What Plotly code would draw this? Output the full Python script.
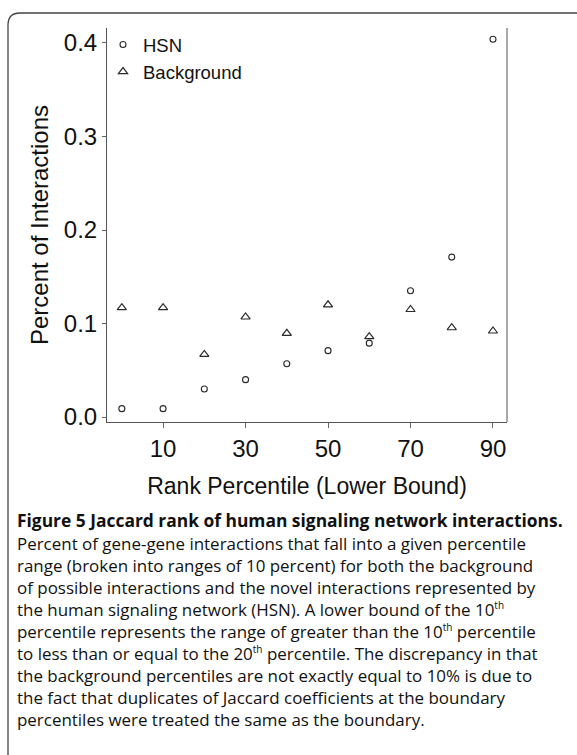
import plotly.graph_objects as go

# ---- data ----
rank_lower = [0, 10, 20, 30, 40, 50, 60, 70, 80, 90]
hsn = [0.009, 0.009, 0.030, 0.040, 0.057, 0.071, 0.079, 0.135, 0.171, 0.404]
background = [0.117, 0.117, 0.067, 0.107, 0.0895, 0.120, 0.086, 0.115, 0.0955, 0.092]
x_ticks = [10, 30, 50, 70, 90]
y_ticks = [0.0, 0.1, 0.2, 0.3, 0.4]
y_tick_text = ["0.0", "0.1", "0.2", "0.3", "0.4"]

TH = '<sup><span style="font-size:10px">th</span></sup>'
caption_lines = [
    "<b>Figure 5 Jaccard rank of human signaling network interactions.</b>",
    "Percent of gene-gene interactions that fall into a given percentile",
    "range (broken into ranges of 10 percent) for both the background",
    "of possible interactions and the novel interactions represented by",
    f"the human signaling network (HSN). A lower bound of the 10{TH}",
    f"percentile represents the range of greater than the 10{TH} percentile",
    f"to less than or equal to the 20{TH} percentile. The discrepancy in that",
    "the background percentiles are not exactly equal to 10% is due to",
    "the fact that duplicates of Jaccard coefficients at the boundary",
    "percentiles were treated the same as the boundary.",
]

W, H = 577, 755
L, R, T, B = 107, 70, 28, 333
PW, PH = W - L - R, H - T - B

def px(xp):
    return (xp - L) / PW

def py(yp):
    return (H - B - yp) / PH

ink = "#2a2a2a"
axis_font = "Liberation Sans, Arial, sans-serif"

fig = go.Figure()
fig.add_trace(go.Scatter(
    x=rank_lower, y=hsn, mode="markers", name="HSN",
    marker=dict(symbol="circle-open", size=6, color=ink, line=dict(width=1.1, color=ink)),
))
fig.add_trace(go.Scatter(
    x=rank_lower, y=background, mode="markers", name="Background",
    marker=dict(symbol="triangle-up-open", size=8, color=ink, line=dict(width=1.2, color=ink)),
))

fig.update_layout(
    width=W, height=H,
    margin=dict(l=L, r=R, t=T, b=B),
    plot_bgcolor="white", paper_bgcolor="white",
    font=dict(family=axis_font, color="#111"),
    showlegend=True,
    legend=dict(
        x=px(103), y=py(26), xanchor="left", yanchor="top",
        bgcolor="rgba(0,0,0,0)", font=dict(size=18.5, family=axis_font, color="#111"),
        tracegroupgap=0,
    ),
    xaxis=dict(
        range=[-3.6, 93.4], tickvals=x_ticks, ticks="outside", ticklen=5,
        tickcolor="#666", showgrid=False, zeroline=False,
        showline=True, linecolor="#555", linewidth=1, mirror=False,
        tickfont=dict(size=24, family=axis_font, color="#111"),
        title=dict(text="Rank Percentile (Lower Bound)", font=dict(size=23, family=axis_font, color="#111"), standoff=17),
    ),
    yaxis=dict(
        range=[-0.0053, 0.416], tickvals=y_ticks, ticktext=y_tick_text,
        ticks="outside", ticklen=4, tickcolor="#666",
        showgrid=False, zeroline=False,
        showline=True, linecolor="#555", linewidth=1,
        tickfont=dict(size=24, family=axis_font, color="#111"),
        title=dict(text="Percent of Interactions", font=dict(size=24, family=axis_font, color="#111"), standoff=8),
    ),
)

# right border of the plot area
fig.add_shape(type="line", xref="paper", yref="paper", x0=1, x1=1, y0=0, y1=1,
              line=dict(color="#555", width=1))

# rounded outer frame (extends past right and bottom edges)
x0, y0, r = 8, 13, 12
path = (f"M {px(x0)} {py(H + 5)} L {px(x0)} {py(y0 + r)} "
        f"Q {px(x0)} {py(y0)} {px(x0 + r)} {py(y0)} L {px(W + 5)} {py(y0)}")
fig.add_shape(type="path", xref="paper", yref="paper", path=path,
              line=dict(color="#444", width=1.3))

cap_font = "Open Sans, Noto Sans, sans-serif"
first_y = 520
for i, line in enumerate(caption_lines):
    fig.add_annotation(
        xref="paper", yref="paper", x=px(15), y=py(first_y + 22 * i + (1 if i else 0)),
        xanchor="left", yanchor="middle", text=line, showarrow=False,
        font=dict(size=16.95 if i else 17.4, family=cap_font, color="#111"),
    )

fig.write_html("out.html")
